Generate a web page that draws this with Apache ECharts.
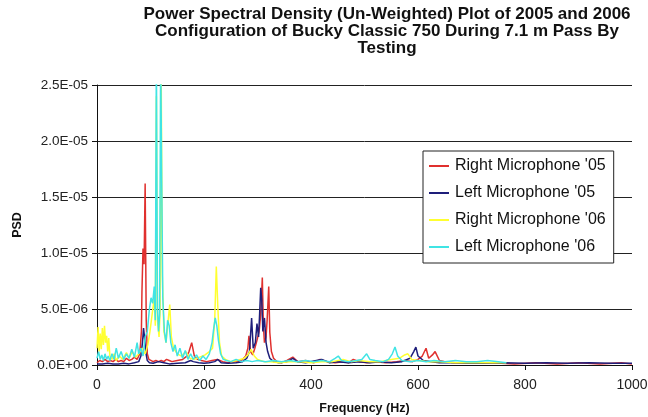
<!DOCTYPE html>
<html lang="en">
<head>
    <meta charset="UTF-8">
    <title>PSD Plot - Bucky Classic 750</title>
    <script src="https://cdn.jsdelivr.net/npm/echarts/dist/echarts.min.js"></script>
    <style>
        html, body { margin: 0; padding: 0; background: #fff; }
        #chart { width: 648px; height: 417px; }
    </style>
</head>
<body>
    <div id="chart"></div>

    <script>
        // [frequency Hz, PSD in units of 1E-06]
        const rightMic05 = [[0,0.2],[5,0.4],[10,0.3],[15,0.5],[20,0.3],[25,0.4],[30,0.3],[35,0.5],[40,0.3],[45,0.4],[50,0.3],[55,0.6],[60,0.4],[65,0.5],[70,0.7],[75,0.5],[80,1.0],[83,3.0],[84,6.5],[86,10.4],[88,9.0],[90,16.2],[92,4.0],[94,1.0],[97,0.5],[100,0.4],[105,0.3],[110,0.4],[115,0.3],[120,0.4],[125,0.3],[130,0.5],[135,0.4],[140,0.3],[150,0.4],[160,0.5],[168,0.8],[172,1.2],[177,2.0],[182,0.8],[188,0.5],[195,0.4],[205,0.3],[215,0.4],[225,0.5],[235,0.3],[245,0.2],[255,0.3],[265,0.3],[272,0.5],[278,0.8],[282,1.5],[284,2.6],[287,1.2],[291,0.9],[295,1.5],[299,2.2],[303,3.0],[306,4.5],[309,7.8],[311,3.5],[313,2.0],[316,2.5],[318,4.0],[321,7.0],[323,2.9],[326,1.2],[330,0.6],[336,0.3],[345,0.2],[355,0.4],[366,0.7],[375,0.3],[390,0.4],[405,0.2],[417,0.5],[430,0.3],[445,0.2],[460,0.3],[470,0.2],[479,0.5],[490,0.3],[505,0.2],[520,0.3],[540,0.2],[560,0.3],[575,0.4],[590,0.3],[600,0.5],[608,0.8],[615,1.5],[620,0.6],[627,0.9],[632,1.2],[640,0.4],[650,0.3],[670,0.2],[700,0.2],[740,0.2],[780,0.1],[820,0.2],[860,0.1],[900,0.2],[940,0.1],[980,0.2],[1000,0.1]];

        const leftMic05 = [[0,0.1],[10,0.1],[20,0.15],[30,0.1],[40,0.1],[50,0.15],[60,0.1],[70,0.2],[78,0.3],[82,0.8],[85,2.0],[87,3.3],[89,2.4],[91,1.2],[94,0.4],[98,0.2],[105,0.15],[115,0.3],[125,0.2],[135,0.1],[150,0.15],[165,0.2],[175,0.4],[180,0.3],[190,0.2],[200,0.15],[210,0.2],[220,0.3],[226,0.5],[232,0.2],[245,0.15],[260,0.2],[272,0.3],[280,0.6],[285,1.2],[289,4.2],[292,1.5],[296,2.0],[299,3.7],[302,2.5],[304,4.6],[306,6.9],[308,5.8],[310,3.0],[313,4.2],[316,2.0],[319,1.2],[323,0.6],[330,0.3],[340,0.2],[355,0.3],[366,0.6],[375,0.3],[390,0.2],[410,0.4],[420,0.5],[435,0.2],[450,0.3],[470,0.2],[490,0.3],[510,0.2],[530,0.3],[550,0.2],[570,0.3],[585,0.6],[592,1.2],[596,1.6],[600,0.8],[610,0.4],[625,0.3],[640,0.2],[660,0.2],[690,0.15],[720,0.15],[760,0.2],[800,0.15],[840,0.2],[880,0.15],[920,0.2],[960,0.15],[1000,0.15]];

        const rightMic06 = [[0,1.5],[2,3.4],[4,1.2],[6,2.8],[8,1.4],[10,3.3],[12,1.8],[14,3.5],[16,2.0],[18,2.6],[20,1.2],[22,2.4],[24,0.8],[28,0.5],[32,1.0],[36,0.4],[42,0.8],[48,0.5],[55,1.1],[60,0.6],[66,1.2],[72,0.7],[78,1.0],[84,1.5],[90,1.0],[95,1.8],[99,3.0],[103,4.5],[107,6.0],[109,3.5],[111,24],[113,4.0],[116,2.5],[118,5.0],[120,26],[122,8.0],[125,3.0],[129,2.0],[132,3.5],[136,5.4],[139,2.5],[143,1.5],[150,1.0],[158,0.8],[166,1.2],[174,0.6],[182,0.5],[192,0.7],[202,0.9],[210,1.2],[216,1.5],[220,4.0],[223,8.8],[226,5.0],[229,2.0],[233,0.8],[240,0.5],[250,0.3],[262,0.4],[275,0.6],[282,0.9],[288,1.4],[294,0.8],[300,0.5],[312,0.3],[325,0.3],[340,0.2],[360,0.3],[380,0.3],[400,0.2],[420,0.3],[440,0.3],[460,0.5],[475,0.3],[490,0.4],[510,0.3],[530,0.3],[550,0.5],[565,0.6],[575,0.9],[581,1.0],[588,0.5],[600,0.4],[620,0.3],[640,0.3],[670,0.2],[700,0.2],[730,0.2],[765,0.2]];

        const leftMic06 = [[0,0.6],[3,1.2],[6,0.5],[9,0.9],[12,0.4],[15,1.0],[18,0.5],[21,0.8],[24,0.4],[28,1.0],[32,0.5],[36,1.5],[40,0.6],[45,1.2],[50,0.5],[55,1.0],[60,0.6],[65,1.4],[70,0.7],[75,2.0],[78,1.0],[82,1.5],[86,0.8],[90,2.5],[94,3.0],[98,5.0],[101,6.0],[104,5.5],[107,7.0],[109,4.0],[111,28],[113,5.0],[115,3.0],[117,4.5],[119,28],[121,16.3],[123,6.0],[126,3.0],[129,2.0],[132,4.0],[135,3.5],[138,2.0],[142,1.2],[146,1.8],[150,0.8],[155,1.5],[160,0.6],[165,1.3],[170,0.5],[175,1.0],[180,0.5],[186,0.9],[192,0.4],[198,0.8],[204,0.5],[210,1.0],[215,2.0],[218,3.2],[221,4.2],[224,3.5],[227,2.2],[231,1.0],[236,0.5],[242,0.4],[250,0.3],[260,0.5],[270,0.3],[280,0.4],[290,0.3],[300,0.4],[315,0.3],[330,0.4],[345,0.3],[360,0.4],[375,0.3],[390,0.4],[405,0.3],[420,0.4],[435,0.3],[445,0.6],[451,0.8],[457,0.4],[470,0.3],[485,0.4],[495,0.5],[504,1.0],[510,0.5],[520,0.4],[535,0.3],[545,0.5],[552,1.0],[557,1.6],[562,0.8],[570,0.4],[585,0.3],[600,0.4],[615,0.3],[630,0.4],[650,0.3],[670,0.4],[690,0.3],[710,0.3],[730,0.4],[750,0.3],[765,0.2]];

        const seriesNames = ["Right Microphone '05", "Left Microphone '05", "Right Microphone '06", "Left Microphone '06"];
        const seriesColors = ['#e0302e', '#1e1e7a', '#ffff30', '#40e4e4'];

        const font = 'Liberation Sans, Arial, sans-serif';

        function toPsd(pairs) {
            return pairs.map(p => [p[0], p[1] * 1e-6]);
        }

        function sciLabel(v) {
            const parts = v.toExponential(1).split('e');
            let exp = parseInt(parts[1], 10);
            const sign = exp < 0 ? '-' : '+';
            exp = Math.abs(exp);
            return parts[0] + 'E' + sign + (exp < 10 ? '0' + exp : exp);
        }

        const chart = echarts.init(document.getElementById('chart'));

        chart.setOption({
            animation: false,
            backgroundColor: '#fff',
            title: {
                text: 'Power Spectral Density (Un-Weighted) Plot of 2005 and 2006\nConfiguration of Bucky Classic 750 During 7.1 m Pass By\nTesting',
                left: 382,
                top: 1,
                textAlign: 'center',
                textStyle: { fontFamily: font, fontSize: 17, fontWeight: 'bold', color: '#111', lineHeight: 17 }
            },
            legend: {
                orient: 'vertical',
                left: 423,
                top: 151,
                padding: [7, 8, 8, 6],
                itemGap: 11,
                itemWidth: 20,
                itemHeight: 2,
                icon: 'rect',
                backgroundColor: '#fff',
                borderColor: '#222',
                borderWidth: 1,
                borderRadius: 0,
                textStyle: { fontFamily: font, fontSize: 16, color: '#111', padding: [0, 0, 0, 1] },
                data: seriesNames
            },
            grid: { left: 97, right: 16, top: 85, bottom: 52, outerBoundsMode: 'none', containLabel: false },
            xAxis: {
                type: 'value',
                min: 0,
                max: 1000,
                interval: 200,
                name: 'Frequency (Hz)',
                nameLocation: 'middle',
                nameGap: 37,
                nameTextStyle: { fontFamily: font, fontSize: 12.5, fontWeight: 'bold', color: '#111' },
                axisLine: { show: true, lineStyle: { color: '#111', width: 1 } },
                axisTick: { show: true, length: 5, lineStyle: { color: '#111' } },
                axisLabel: { fontFamily: font, fontSize: 14, color: '#222', margin: 13, formatter: v => String(v) },
                splitLine: { show: false }
            },
            yAxis: {
                type: 'value',
                min: 0,
                max: 25e-6,
                interval: 5e-6,
                name: 'PSD',
                nameLocation: 'middle',
                nameRotate: 90,
                nameGap: 73,
                nameTextStyle: { fontFamily: font, fontSize: 12.5, fontWeight: 'bold', color: '#111' },
                axisLine: { show: true, lineStyle: { color: '#111', width: 1 } },
                axisTick: { show: true, length: 5, lineStyle: { color: '#111' } },
                axisLabel: { fontFamily: font, fontSize: 13.5, color: '#222', margin: 9, formatter: sciLabel },
                splitLine: { show: true, lineStyle: { color: '#222', width: 1 } }
            },
            series: [
                { name: seriesNames[0], type: 'line', data: toPsd(rightMic05) },
                { name: seriesNames[1], type: 'line', data: toPsd(leftMic05) },
                { name: seriesNames[2], type: 'line', data: toPsd(rightMic06) },
                { name: seriesNames[3], type: 'line', data: toPsd(leftMic06) }
            ].map((s, i) => Object.assign(s, {
                showSymbol: false,
                symbol: 'none',
                clip: true,
                color: seriesColors[i],
                lineStyle: { color: seriesColors[i], width: 1.5 }
            }))
        });
    </script>
</body>
</html>
